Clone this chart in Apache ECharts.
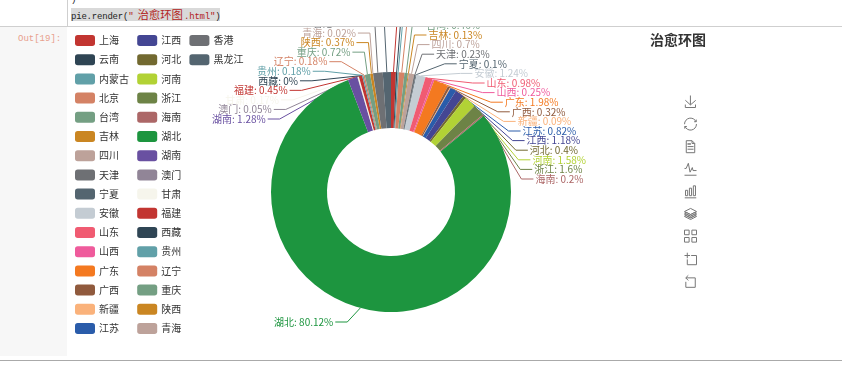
<!DOCTYPE html>
<html><head><meta charset="utf-8">
<style>
html,body{margin:0;padding:0;background:#fff;width:842px;height:366px;overflow:hidden;font-family:"Noto Sans CJK SC",sans-serif}
#gutter{position:absolute;left:0;top:27px;width:67px;height:329px;background:#f7f7f7}
#topline{position:absolute;left:0;top:26px;width:842px;height:1px;background:#cfcfcf}
#botline{position:absolute;left:0;top:360px;width:842px;height:1px;background:#aaa}
#codeborder{position:absolute;left:67px;top:0;width:1px;height:26px;background:#cfcfcf}
#code{position:absolute;left:71px;top:8px;height:12.5px;font:9px/12.5px "Liberation Mono",monospace;background:#d9d9d9;color:#222;white-space:pre;letter-spacing:-.2px}
#code span{color:#b22222}
#code i{font:normal 11.4px/12.5px "Noto Sans CJK SC",sans-serif;color:#b22222;letter-spacing:0;margin:0 1px 0 4px}
#paren{position:absolute;left:71px;top:-5px;font:9px/11px "Liberation Mono",monospace;color:#222}
#out{position:absolute;left:18px;top:33px;font:9px/12px "Liberation Mono",monospace;color:#e8a08c}
#clip{position:absolute;left:67px;top:27px;width:775px;height:329px;overflow:hidden}
#chart{position:absolute;left:0;top:-100px;width:775px;height:529px}
</style></head><body>
<div id="paren">)</div>
<div id="code">pie.render(<span>"<i>治愈环图</i>.html"</span>)</div>
<div id="codeborder"></div>
<div id="topline"></div>
<div id="gutter"></div>
<div id="out">Out[19]:</div>
<div id="botline"></div>
<div id="clip"><div id="chart"></div></div>
<script src="https://cdn.jsdelivr.net/npm/echarts@6/dist/echarts.min.js"></script>
<script>
const titleText = "治愈环图";
const categories = ["上海","云南","内蒙古","北京","台湾","吉林","四川","天津","宁夏","安徽","山东","山西","广东","广西","新疆","江苏","江西","河北","河南","浙江","海南","湖北","湖南","澳门","甘肃","福建","西藏","贵州","辽宁","重庆","陕西","青海","香港","黑龙江"];
const shares = [0.65,0.2,0.2,0.75,0.46,0.13,0.7,0.23,0.1,1.24,0.98,0.25,1.98,0.32,0.09,0.82,1.18,0.4,1.58,1.6,0.2,80.12,1.28,0.05,0.17,0.45,0,0.18,0.18,0.72,0.37,0.02,1.3,1.1];
const palette = ["#c23531","#2f4554","#61a0a8","#d48265","#749f83","#ca8622","#bda29a","#6e7074","#546570","#c4ccd3","#f05b72","#ef5b9c","#f47920","#905a3d","#fab27b","#2a5caa","#444693","#726930","#b2d235","#6d8346","#ac6767","#1d953f","#6950a1","#918597","#f6f5ec","#c23531","#2f4554","#61a0a8","#d48265","#749f83","#ca8622","#bda29a","#6e7074","#546570"];
const CX = 324, CY = 265, RAD = 120, RING = 145, TAIL = 12, GAP = 2;
const MAJOR = categories.indexOf("湖北");
function placeLabel(params){
  const i = params.dataIndex;
  const start = params.labelLinePoints[0];
  const ox = start[0]-CX;
  const right = i < MAJOR;
  const dir = right ? 1 : -1;
  let y, dx;
  if (i === MAJOR) {
    y = start[1]+14;
    dx = Math.abs(ox)+13+TAIL+GAP;
  } else {
    y = right ? 108+(i-5)*9.6 : 192-(i-22)*9.55;
    const dy = y-CY;
    dx = Math.max(Math.sqrt(Math.max(0,RING*RING-dy*dy)), Math.abs(ox)+(right?20:17));
  }
  const edge = CX+dir*dx;
  return {
    x: edge, y, align: right?'left':'right', verticalAlign:'middle',
    labelLinePoints:[start,[edge-dir*(TAIL+GAP),y],[edge-dir*GAP,y]]
  };
}
const chart = echarts.init(document.getElementById('chart'));
chart.setOption({
  animation:false,
  color:palette,
  title:{text:titleText,left:583,top:106,padding:0,textStyle:{fontSize:14,fontWeight:'bold',color:'#333',fontFamily:'"Noto Sans CJK SC"'}},
  legend:{orient:'vertical',left:8,top:108,height:310,padding:0,itemWidth:20,itemHeight:11,itemGap:8.2,
    icon:'roundRect',textStyle:{fontSize:10,color:'#333',padding:[0,-1,0,-1],fontFamily:'"Noto Sans CJK SC"'},data:categories},
  toolbox:{show:true,orient:'vertical',left:615,top:166,itemSize:12,itemGap:5.6,padding:0,
    iconStyle:{borderColor:'#777',borderWidth:1},
    feature:{saveAsImage:{},restore:{},dataView:{readOnly:true},magicType:{type:['line','bar','stack']},
      myTiled:{show:true,title:'tiled',icon:'path://M2 2H12V12H2Z M18 2H28V12H18Z M2 18H12V28H2Z M18 18H28V28H18Z',onclick:function(){}},
      dataZoom:{}}},
  series:[{type:'pie',center:[CX,CY],radius:[64,RAD],startAngle:90,avoidLabelOverlap:false,
    data:categories.map((name,i)=>({name,value:shares[i]})),
    label:{color:'inherit',formatter:p=>p.name+': '+p.value+'%',fontSize:10,fontFamily:'"Noto Sans CJK SC"'},
    labelLine:{length:15,length2:10,lineStyle:{width:1}},
    labelLayout:placeLabel}]
});
</script></body></html>
